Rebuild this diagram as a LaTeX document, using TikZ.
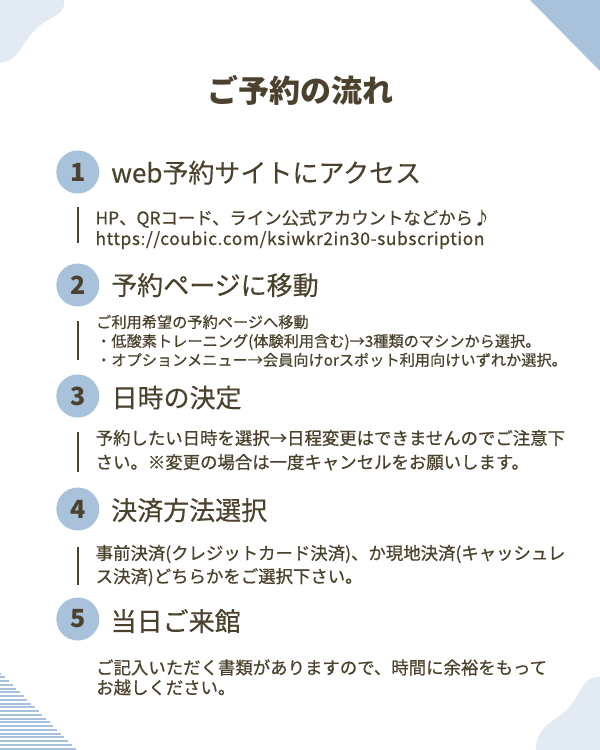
\documentclass[tikz,border=0pt]{standalone}
\usepackage{fontspec}
\setmainfont{Noto Sans CJK JP}
\XeTeXlinebreaklocale "ja"
\XeTeXlinebreakskip=0pt plus 4pt minus 2pt
\newcommand\lsp[1]{\addfontfeature{LetterSpace=#1}}
\newcommand\fitline[2]{\makebox[#1pt][s]{#2}}
\definecolor{txt}{HTML}{4B412C}
\definecolor{accent}{HTML}{A7C2DA}
\definecolor{pale}{HTML}{E2EBF3}
\tikzset{
  titlestyle/.style={inner sep=0pt, anchor=base, text=txt, font=\fontsize{31pt}{36pt}\selectfont\bfseries},
  stepcirc/.style={circle, fill=accent, minimum size=43pt, inner sep=0pt, text=txt, font=\fontsize{25pt}{30pt}\selectfont\bfseries},
  headstyle/.style={inner sep=0pt, anchor=base west, text=txt, font=\fontsize{26pt}{30pt}\selectfont\addfontfeature{FakeBold=0.3}},
  bodystyle/.style={inner sep=0pt, anchor=base west, text=txt, font=\fontsize{17.4pt}{20pt}\selectfont\addfontfeature{FakeBold=0.6}},
  smallbody/.style={inner sep=0pt, anchor=base west, text=txt, font=\fontsize{15.2pt}{18pt}\selectfont\addfontfeature{FakeBold=0.6}},
  barline/.style={draw=txt, line width=1.8pt},
  stripe/.style={draw=accent, line width=2pt}
}
\begin{document}
\begin{tikzpicture}[x=1pt,y=-1pt]
\useasboundingbox (0,0) rectangle (600,750);
\fill[white] (0,0) rectangle (600,750);
% decorations
\fill[pale] (0,0) -- (64,0) .. controls (65,10) and (60,14) .. (48,20)
  .. controls (35,27) and (28,38) .. (20,50) .. controls (14,58) and (8,63) .. (0,62) -- cycle;
\fill[accent] (530,0) -- (600,0) -- (600,71) -- cycle;
\fill[pale] (536,750) .. controls (535,735) and (545,725) .. (558,717)
  .. controls (572,708) and (576,697) .. (583,686) .. controls (588,678) and (595,676) .. (600,677)
  -- (600,750) -- cycle;
\foreach \i in {0,...,20} {
  \pgfmathsetmacro{\yy}{673.5+3.75*\i}
  \pgfmathsetmacro{\xx}{(\yy-672)*77/78}
  \draw[stripe] (0,\yy) -- (\xx,\yy);
}
% title
\node[titlestyle] (title) at (300,102) {ご予約の流れ};
% step 1
\node[stepcirc] (c1) at (77.8,172) {1};
\node[headstyle] (h1) at (111,182.5) {web予約サイトにアクセス};
\draw[barline] (77.8,207) -- (77.8,243);
\node[bodystyle] (b1a) at (95.3,224.4) {\fitline{398.7}{HP、QRコード、ライン公式アカウントなどから♪}};
\node[bodystyle] (b1b) at (95.3,245) {\lsp{3.3}https://coubic.com/ksiwkr2in30-subscription};
% step 2
\node[stepcirc] (c2) at (77.8,285) {2};
\node[headstyle] (h2) at (111,295) {予約ページに移動};
\draw[barline] (77.8,321) -- (77.8,360);
\node[smallbody] (b2a) at (96,327.8) {\fitline{212}{ご利用希望の予約ページへ移動}};
\node[smallbody] (b2b) at (96,346.8) {\fitline{466}{・低酸素トレーニング(体験利用含む)→3種類のマシンから選択。}};
\node[smallbody] (b2c) at (96,365.7) {\fitline{478}{・オプションメニュー→会員向けorスポット利用向けいずれか選択。}};
% step 3
\node[stepcirc] (c3) at (77.8,396) {3};
\node[headstyle] (h3) at (111.4,407.4) {日時の決定};
\draw[barline] (77.8,432) -- (77.8,471.5);
\node[bodystyle] (b3a) at (95.5,444.6) {\fitline{470}{予約したい日時を選択→日程変更はできませんのでご注意下}};
\node[bodystyle] (b3b) at (95.5,468.7) {\fitline{438.5}{さい。※変更の場合は一度キャンセルをお願いします。}};
% step 4
\node[stepcirc] (c4) at (77.8,509) {4};
\node[headstyle] (h4) at (111,520) {決済方法選択};
\draw[barline] (77.8,547) -- (77.8,585);
\node[bodystyle] (b4a) at (95.5,559.6) {\fitline{470.5}{事前決済(クレジットカード決済)、か現地決済(キャッシュレ}};
\node[bodystyle] (b4b) at (95.5,582.8) {\fitline{268.3}{ス決済)どちらかをご選択下さい。}};
% step 5
\node[stepcirc] (c5) at (77.8,619) {5};
\node[headstyle] (h5) at (110.5,631) {当日ご来館};
\node[bodystyle] (b5a) at (96,674.1) {\fitline{453.5}{ご記入いただく書類がありますので、時間に余裕をもって}};
\node[bodystyle] (b5b) at (96,694.1) {\fitline{139.4}{お越しください。}};
\end{tikzpicture}
\end{document}
